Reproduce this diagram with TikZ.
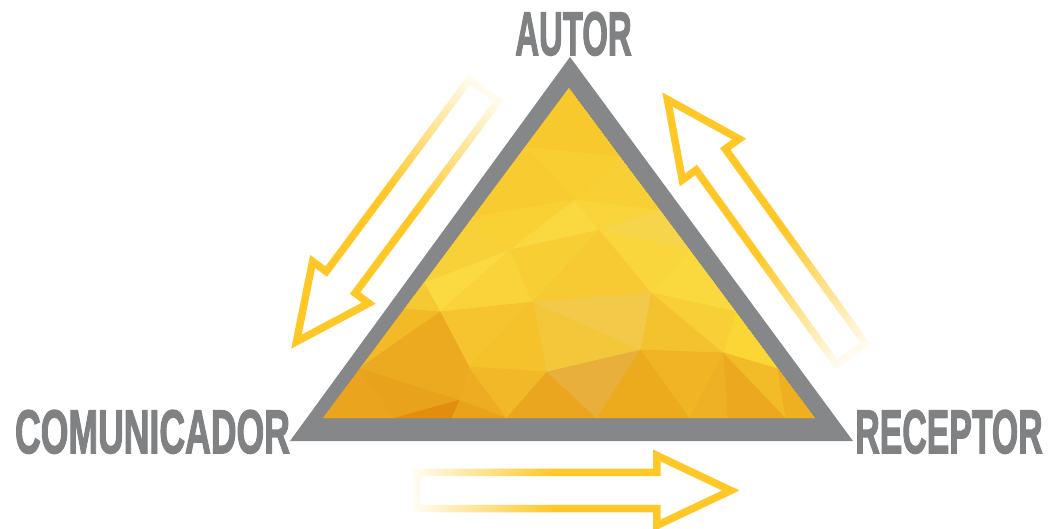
\documentclass[tikz,border=0pt]{standalone}
\usepackage{fontspec}
\newfontfamily\rolefont{Liberation Sans}[BoldFeatures={FakeBold=2.5}]
\usetikzlibrary{fadings}
\definecolor{rimgray}{RGB}{134,135,137}
\definecolor{textgray}{RGB}{128,129,131}
\definecolor{arrowyellow}{RGB}{255,200,38}
% tail end fades out, the rest stays solid
\pgfdeclarehorizontalshading{tailshade}{100bp}{color(0bp)=(transparent!95); color(25bp)=(transparent!95); color(47bp)=(transparent!0); color(100bp)=(transparent!0)}
\pgfdeclarefading{tailfade}{\pgfuseshading{tailshade}}
\tikzset{
  rolename/.style={text=textgray, font=\rolefont\bfseries\fontsize{61.5}{61.5}\selectfont, inner sep=0pt, anchor=base},
  fadearrow/.style={draw=arrowyellow, line width=7.5pt, line join=miter, path fading=tailfade}
}
% hollow arrow, tail at #1, turned by #2
\newcommand{\sidearrow}[2]{%
  \begin{scope}[transform canvas={shift={(#1)}, rotate=#2}]
    \path[fadearrow] (0,-18) -- (240,-18) -- (240,-35) -- (314,0) -- (240,35) -- (240,18) -- (0,18) -- cycle;
  \end{scope}}

\begin{document}
\begin{tikzpicture}[x=1pt, y=-1pt]
    \useasboundingbox (0,0) rectangle (1048,528);
    % Gray rim and inner face
    \fill[rimgray] (570,57) -- (290,441) -- (853,441) -- cycle;
    \coordinate (top) at (569,88);
    \coordinate (left) at (323,418);
    \coordinate (right) at (815,418);
    % Mesh points of the low-poly face
    \coordinate (v0) at (569,88);
    \coordinate (v1) at (525,147);
    \coordinate (v2) at (620,157);
    \coordinate (v3) at (575,200);
    \coordinate (v4) at (473,217);
    \coordinate (v5) at (660,210);
    \coordinate (v6) at (510,250);
    \coordinate (v7) at (600,230);
    \coordinate (v8) at (690,250);
    \coordinate (v9) at (440,312);
    \coordinate (v10) at (404,309);
    \coordinate (v11) at (533,302);
    \coordinate (v12) at (652,293);
    \coordinate (v13) at (736,312);
    \coordinate (v14) at (424,283);
    \coordinate (v16) at (469,367);
    \coordinate (v17) at (547,372);
    \coordinate (v18) at (641,350);
    \coordinate (v19) at (724,353);
    \coordinate (v20) at (778,369);
    \coordinate (v21) at (360,368);
    \coordinate (v22) at (460,400);
    \coordinate (b1) at (323,418);
    \coordinate (b2) at (395,418);
    \coordinate (b3) at (452,418);
    \coordinate (b4) at (507,418);
    \coordinate (b6) at (597,418);
    \coordinate (b7) at (690,418);
    \coordinate (b8) at (728,418);
    \coordinate (b9) at (786,418);
    \coordinate (b10) at (815,418);
    \begin{scope}
        \clip (top) -- (left) -- (right) -- cycle;
        \foreach \a/\b/\c/\hex in {
            v0/v1/v2/F8C92D, v1/v3/v2/F9CE31, v1/v4/v3/F8CB30, v2/v3/v5/F8CF35,
            v4/v6/v3/F9D135, v3/v6/v7/FAD83F, v3/v7/v5/F9D43A, v5/v7/v8/F7D54A,
            v4/v14/v6/F8D038, v14/v9/v6/FAD941, v6/v9/v11/F9D33A, v6/v11/v7/F8CE35,
            v7/v11/v12/F7CA33, v7/v12/v8/FAD63D, v8/v12/v13/FAD93E, v14/v10/v9/F6C832,
            v10/v21/v9/F2BA27, v9/v16/v11/F5C42E, v9/v21/v16/ECAA20, v11/v16/v17/F5C22C,
            v11/v17/v18/F4C63A, v11/v18/v12/F3C94A, v12/v18/v19/F4C12F, v12/v19/v13/F8CF37,
            v13/v19/v20/FAD734, v21/b1/b2/EAA41D, v21/b2/v22/E9A21C, v21/v22/v16/ECAA21,
            v22/b2/b3/E18E0F, v22/b3/b4/EAA21B, v16/v22/b4/EDAC22, v16/b4/v17/F1B928,
            v17/b4/b6/EAA61E, v17/b6/v18/E8B03B, v18/b6/b7/ECAA1D, v18/b7/v19/F0B425,
            v19/b7/b8/EEB024, v19/b8/b9/ECA91F, v19/b9/v20/F2BB28, v20/b9/b10/EEB021}{
            \definecolor{facetcol}{HTML}{\hex}
            \filldraw[facetcol, line width=0.6pt, line join=round] (\a) -- (\b) -- (\c) -- cycle;
        }
    \end{scope}
    % Hollow arrows along the sides
    \sidearrow{484,90}{233.3}
    \sidearrow{851,354}{125.8}
    \sidearrow{417,490.5}{0}
    % Role names
    \node[rolename] (autor) at (573.5,55) {\scalebox{0.535}[1]{AUTOR}};
    \node[rolename] (comunicador) at (152.5,453) {\scalebox{0.579}[1]{COMUNICADOR}};
    \node[rolename] (receptor) at (949,453) {\scalebox{0.55}[1]{RECEPTOR}};
\end{tikzpicture}
\end{document}
